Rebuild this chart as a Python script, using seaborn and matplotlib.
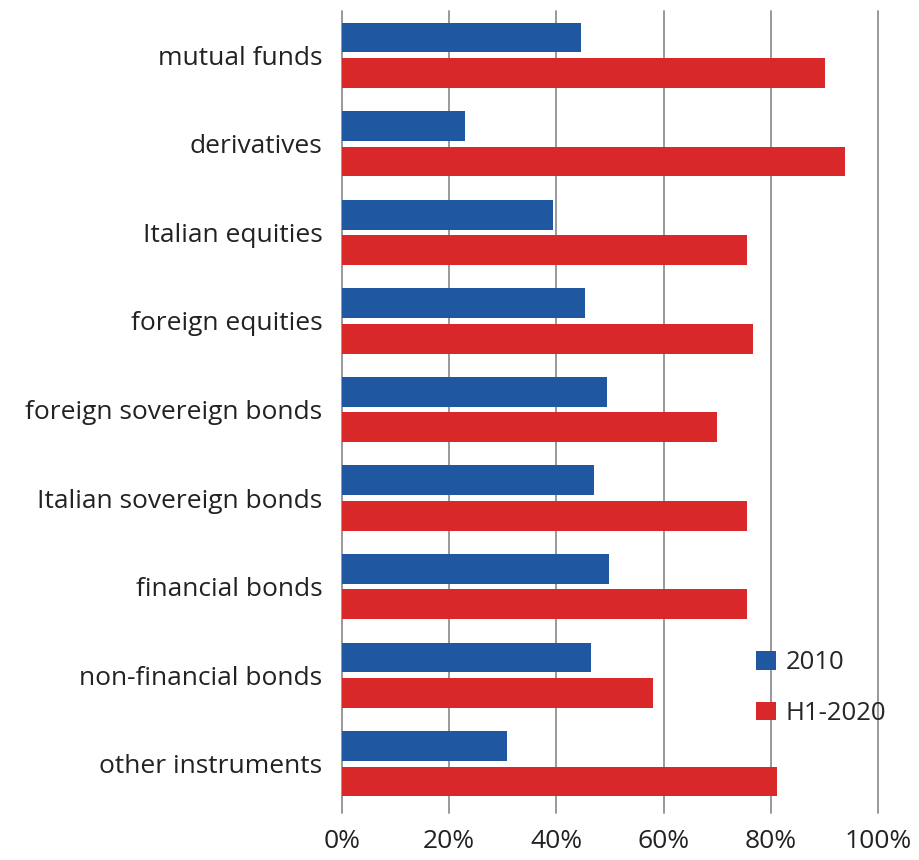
import matplotlib
matplotlib.use("Agg")
import matplotlib.pyplot as plt
import seaborn as sns
import pandas as pd

categories = [
    "mutual funds",
    "derivatives",
    "Italian equities",
    "foreign equities",
    "foreign sovereign bonds",
    "Italian sovereign bonds",
    "financial bonds",
    "non-financial bonds",
    "other instruments",
]
share_2010 = [44.6, 22.9, 39.4, 45.3, 49.4, 47.1, 49.8, 46.5, 30.8]
share_h1_2020 = [90.2, 93.8, 75.6, 76.7, 69.9, 75.6, 75.6, 58.0, 81.2]
series_names = ["2010", "H1-2020"]
tick_values = [0, 20, 40, 60, 80, 100]
tick_labels = ["0%", "20%", "40%", "60%", "80%", "100%"]

df = pd.DataFrame({
    "category": categories * 2,
    "share": share_2010 + share_h1_2020,
    "period": [series_names[0]] * len(categories) + [series_names[1]] * len(categories),
})

sns.set_theme(style="white")
plt.rcParams["font.family"] = ["Open Sans", "DejaVu Sans"]

fig = plt.figure(figsize=(9.2, 8.6), dpi=100)
ax = fig.add_axes([342 / 920, 1 - 808 / 860, (878 - 342) / 920, (808 - 11) / 860])

palette = {"2010": "#1F57A0", "H1-2020": "#D8282A"}
sns.barplot(
    data=df, x="share", y="category", hue="period", order=categories,
    hue_order=series_names, palette=palette, orient="h",
    width=0.8, gap=0.16, saturation=1, linewidth=0, ax=ax, legend=True,
)

ax.set_xlim(0, 100)
ax.set_xticks(tick_values)
ax.set_xticklabels(tick_labels)
ax.set_xlabel("")
ax.set_ylabel("")
for s in ax.spines.values():
    s.set_visible(False)

# vertical gridlines run a little below the plotting area as tick marks
for v in tick_values:
    ax.plot([v, v], [-0.5, 8.5 + 0.06], color="#999999", lw=1.4,
            zorder=0, clip_on=False)
ax.set_ylim(8.5, -0.5)

ax.tick_params(axis="x", length=0, pad=15, labelsize=19, labelcolor="#222222")
ax.tick_params(axis="y", length=0, pad=14, labelsize=19, labelcolor="#222222")

handles, labels = ax.get_legend_handles_labels()
ax.legend(handles, labels, loc="lower left", bbox_to_anchor=(0.754, 0.09),
          frameon=False, fontsize=18.5, handlelength=0.75, handleheight=0.75,
          handletextpad=0.4, labelspacing=1.0, borderaxespad=0)

fig.savefig("out.png", dpi=100)
